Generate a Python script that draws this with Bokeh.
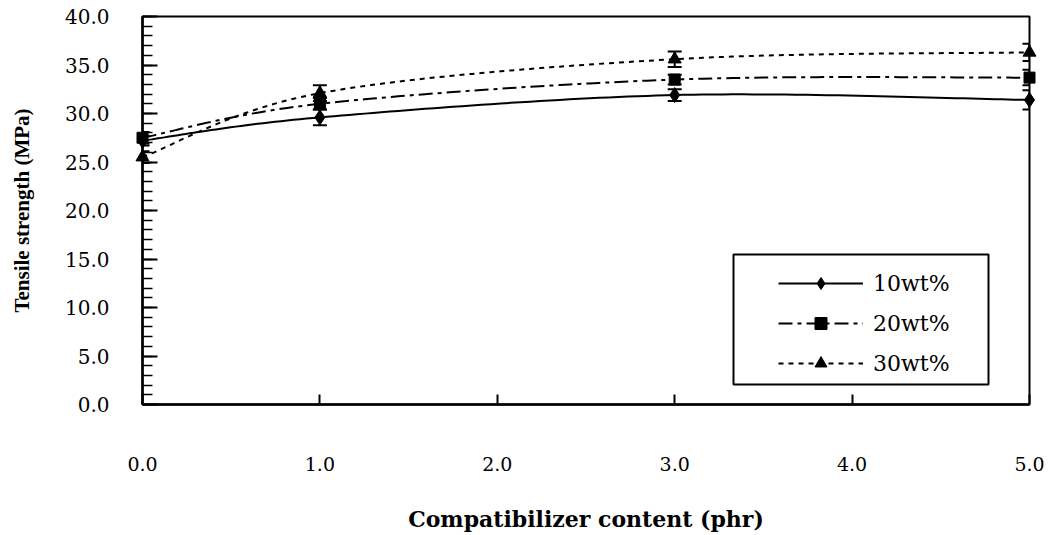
import numpy as np
from bokeh.plotting import figure
from bokeh.models import (ColumnDataSource, FixedTicker, PrintfTickFormatter, Whisker,
                          TeeHead, Legend, LegendItem, BoxAnnotation, Range1d)
from bokeh.embed import file_html
from bokeh.resources import INLINE

# Compatibilizer content (phr) and tensile strength (MPa) with standard deviations
content_phr = [0.0, 1.0, 3.0, 5.0]

strength_10wt = [27.2, 29.6, 31.9, 31.4]
error_10wt = [0.5, 0.8, 0.6, 1.0]

strength_20wt = [27.5, 31.0, 33.5, 33.7]
error_20wt = [0.6, 0.6, 0.5, 0.8]

strength_30wt = [25.5, 32.1, 35.6, 36.3]
error_30wt = [0.6, 0.8, 0.8, 0.9]

series_labels = ["10wt%", "20wt%", "30wt%"]
x_ticks = [0, 1, 2, 3, 4, 5]
y_ticks = [0, 5, 10, 15, 20, 25, 30, 35, 40]
y_minor_ticks = list(range(0, 41))

SERIF = "DejaVu Serif"


def smooth_path(xs, ys, steps=40):
    """Cubic Bezier path through the points with Catmull-Rom tangents."""
    pts = np.column_stack([xs, ys]).astype(float)
    padded = np.vstack([pts[0], pts, pts[-1]])
    t = np.linspace(0.0, 1.0, steps)[1:][:, None]
    out = [pts[0]]
    for i in range(len(pts) - 1):
        p0, p1, p2, p3 = padded[i], padded[i + 1], padded[i + 2], padded[i + 3]
        c1 = p1 + (p2 - p0) / 6.0
        c2 = p2 - (p3 - p1) / 6.0
        seg = ((1 - t) ** 3) * p1 + 3 * ((1 - t) ** 2) * t * c1 \
            + 3 * (1 - t) * (t ** 2) * c2 + (t ** 3) * p2
        out.extend(seg)
    arr = np.array(out)
    return arr[:, 0], arr[:, 1]


p = figure(width=1050, height=535,
           x_range=Range1d(0, 5), y_range=Range1d(0, 40),
           output_backend="svg", toolbar_location=None,
           min_border_left=142, min_border_right=21,
           min_border_top=16, min_border_bottom=131)

p.background_fill_color = "white"
p.border_fill_color = "white"
p.outline_line_color = "black"
p.outline_line_width = 2
p.xgrid.visible = False
p.ygrid.visible = False

series = [
    (strength_10wt, error_10wt, "solid", "diamond", 15),
    (strength_20wt, error_20wt, "14 5 4 5", "square", 11),
    (strength_30wt, error_30wt, "5 5", "triangle", 13),
]

legend_items = []
for label, (vals, errs, dash, marker, size) in zip(series_labels, series):
    sx, sy = smooth_path(content_phr, vals)
    line_r = p.line(sx, sy, line_color="black", line_width=2, line_dash=dash)

    src = ColumnDataSource(dict(
        x=content_phr, y=vals,
        lower=[v - e for v, e in zip(vals, errs)],
        upper=[v + e for v, e in zip(vals, errs)],
    ))
    whisker = Whisker(source=src, base="x", lower="lower", upper="upper",
                      line_color="black", line_width=2, level="overlay",
                      lower_head=TeeHead(size=14, line_color="black", line_width=2),
                      upper_head=TeeHead(size=14, line_color="black", line_width=2))
    p.add_layout(whisker)

    mark_r = p.scatter("x", "y", source=src, marker=marker, size=size,
                       fill_color="black", line_color="black", level="overlay")
    legend_items.append(LegendItem(label=label, renderers=[line_r, mark_r]))

# axes
p.xaxis.ticker = FixedTicker(ticks=x_ticks)
p.xaxis.formatter = PrintfTickFormatter(format="%.1f")
p.xaxis.axis_label = "Compatibilizer content (phr)"
p.xaxis.axis_line_width = 2.5
p.xaxis.major_tick_in = 10
p.xaxis.major_tick_out = 0
p.xaxis.major_tick_line_width = 2
p.xaxis.minor_tick_line_color = None
p.xaxis.major_label_standoff = 52
p.xaxis.axis_label_standoff = 32
p.xaxis.major_label_text_font = SERIF
p.xaxis.major_label_text_font_size = "19px"
p.xaxis.major_label_text_color = "black"
p.xaxis.axis_label_text_font = SERIF
p.xaxis.axis_label_text_font_style = "bold"
p.xaxis.axis_label_text_font_size = "22px"
p.xaxis.axis_label_text_color = "black"

p.yaxis.ticker = FixedTicker(ticks=y_ticks, minor_ticks=y_minor_ticks)
p.yaxis.formatter = PrintfTickFormatter(format="%.1f")
p.yaxis.axis_label = "Tensile strength (MPa)"
p.yaxis.axis_line_width = 2.5
p.yaxis.major_tick_in = 15
p.yaxis.major_tick_out = 0
p.yaxis.major_tick_line_width = 2
p.yaxis.minor_tick_in = 10
p.yaxis.minor_tick_out = 0
p.yaxis.minor_tick_line_width = 1.5
p.yaxis.major_label_standoff = 33
p.yaxis.axis_label_standoff = 28
p.yaxis.major_label_text_font = SERIF
p.yaxis.major_label_text_font_size = "20px"
p.yaxis.major_label_text_color = "black"
p.yaxis.axis_label_text_font = "Liberation Serif"
p.yaxis.axis_label_text_font_style = "bold"
p.yaxis.axis_label_text_font_size = "21px"
p.yaxis.axis_label_text_color = "black"

# legend frame, then the legend entries inside it
legend_box = BoxAnnotation(left=591, right=846, bottom=20, top=150,
                           left_units="screen", right_units="screen",
                           bottom_units="screen", top_units="screen",
                           fill_color="white", fill_alpha=1.0,
                           line_color="black", line_width=2, line_alpha=1.0)
p.add_layout(legend_box)

legend = Legend(items=legend_items, location=(636, 26), margin=0, padding=0,
                spacing=10, glyph_width=85, glyph_height=30, label_height=30,
                label_standoff=10, border_line_color=None,
                background_fill_alpha=0.0,
                label_text_font=SERIF, label_text_font_size="22px",
                label_text_color="black")
p.add_layout(legend)

open("out.html", "w").write(file_html(p, INLINE))
